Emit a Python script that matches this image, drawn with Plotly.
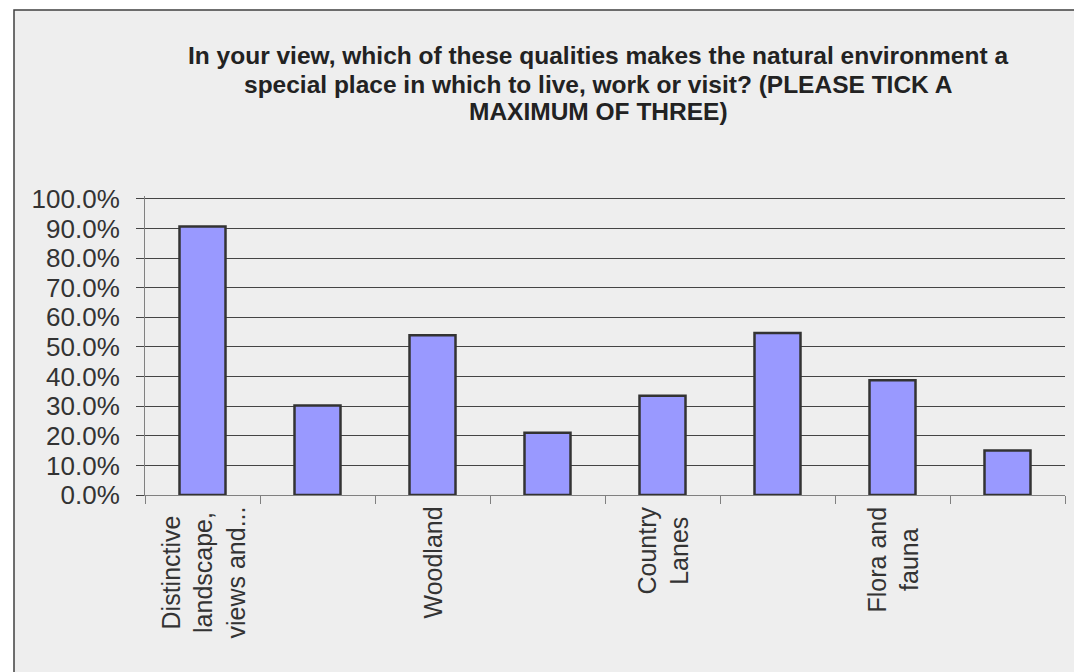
import plotly.graph_objects as go

categories = ["Distinctive<br>landscape,<br>views and...", "", "Woodland", "", "Country<br>Lanes", "", "Flora and<br>fauna", ""]
values = [0.907, 0.302, 0.540, 0.210, 0.335, 0.547, 0.388, 0.150]
y_ticks = [0.0, 0.1, 0.2, 0.3, 0.4, 0.5, 0.6, 0.7, 0.8, 0.9, 1.0]
title_lines = ["In your view, which of these qualities makes the natural environment a",
               "special place in which to live, work or visit? (PLEASE TICK A",
               "MAXIMUM OF THREE)"]

W, H = 1074, 672
YMAX = 1.01
B = 495
L, R = 145, 1065
T = round(B - 296 * YMAX)

xpos = list(range(len(values)))

fig = go.Figure()
fig.add_trace(go.Bar(
    x=xpos, y=values, width=0.4,
    marker=dict(color="#9999ff", line=dict(color="#333333", width=2.5)),
    hoverinfo="y",
))

def px2x(p):
    return (p - L) / (R - L)

def py2y(p):
    return (B - p) / (B - T)

fig.add_shape(type="rect", xref="paper", yref="paper",
              x0=px2x(14), x1=px2x(1090), y0=py2y(690), y1=py2y(10),
              fillcolor="#eeeeee", line=dict(color="#404040", width=1.5),
              layer="below")

# title lines
title_y = [55, 84, 112]
for txt, yy in zip(title_lines, title_y):
    fig.add_annotation(text=txt, xref="paper", yref="paper",
                       x=px2x(598), y=py2y(yy), xanchor="center", yanchor="middle",
                       showarrow=False,
                       font=dict(size=24.5, color="#222222",
                                 family="Liberation Sans, Arial, sans-serif",
                                 weight="bold"))

# category labels (rotated, centered lines)
for i, c in enumerate(categories):
    if not c:
        continue
    fig.add_annotation(text=c, xref="x", yref="paper", x=i, y=py2y(505),
                       xanchor="center", yanchor="top", textangle=-90,
                       align="center", showarrow=False,
                       font=dict(size=25, color="#333333",
                                 family="Liberation Sans, Arial, sans-serif"))

fig.update_layout(
    width=W, height=H,
    margin=dict(l=L, r=W - R, t=T, b=H - B, pad=0),
    paper_bgcolor="white",
    plot_bgcolor="rgba(0,0,0,0)",
    showlegend=False,
    font=dict(family="Liberation Sans, Arial, sans-serif", color="#333333"),
    bargap=0.6,
)

fig.update_xaxes(
    range=[-0.5, len(values) - 0.5],
    tickmode="array", tickvals=[], showticklabels=False,
    ticks="",
    showline=True, linecolor="#808080", linewidth=1,
    showgrid=False, zeroline=False,
    minor=dict(tickmode="array", tickvals=[i - 0.5 for i in range(len(values) + 1)],
               ticks="outside", ticklen=8, tickcolor="#808080", tickwidth=1, showgrid=False),
)

fig.update_yaxes(
    range=[0, YMAX], tickmode="array", tickvals=y_ticks, tickformat=".1%",
    ticks="outside", ticklen=8, tickcolor="#444444",
    showgrid=True, gridcolor="#444444", gridwidth=1,
    showline=True, linecolor="#808080", linewidth=1,
    zeroline=False, tickfont=dict(size=26, color="#333333"),
    ticklabelstandoff=11,
)

fig.write_html("out.html", config={"displayModeBar": False},
               post_script="document.body.style.margin='0';")
